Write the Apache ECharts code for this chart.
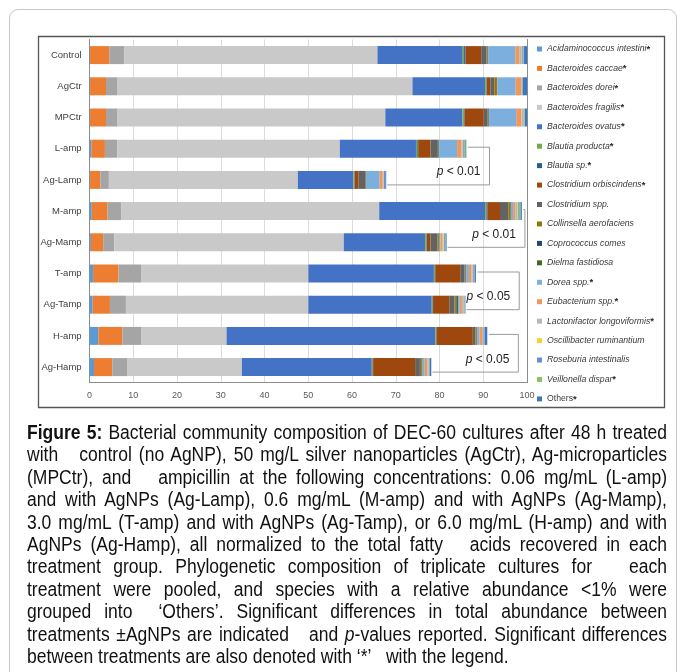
<!DOCTYPE html>
<html>
<head>
<meta charset="utf-8">
<title>Bacterial community composition of DEC-60 cultures</title>
<script src="https://cdn.jsdelivr.net/npm/echarts@6/dist/echarts.min.js"></script>
<style>
  html, body { margin: 0; padding: 0; background: #fff; }
  #page { position: relative; width: 683px; height: 672px; overflow: hidden; }
  #frame { position: absolute; left: 9px; top: 9px; width: 666px; height: 720px;
           border: 1px solid #c8c8c8; border-radius: 9px; }
  #chart { position: absolute; left: 0; top: 0; width: 683px; height: 672px; }
  #caption { position: absolute; left: 27px; top: 421px; width: 640px;
             font-family: 'Liberation Sans', Arial, sans-serif; color: #111; }
  #caption .ln { height: 22.4px; line-height: 22.4px; font-size: 20px; overflow: hidden;
                 transform-origin: 0 0; text-align: justify; text-align-last: justify; }
  #caption .ln.last { text-align-last: left; }
  #caption .ln span.measure { white-space: nowrap; }
</style>
</head>
<body>
<div id="page">
  <div id="frame"></div>
  <div id="chart"></div>
  <div id="caption">
    <div class="ln"><span><b>Figure 5:</b> Bacterial community composition of DEC-60 cultures after 48 h treated</span></div>
    <div class="ln"><span>with&nbsp;&nbsp; control (no AgNP), 50 mg/L silver nanoparticles (AgCtr), Ag-microparticles</span></div>
    <div class="ln"><span>(MPCtr), and&nbsp;&nbsp; ampicillin at the following concentrations: 0.06 mg/mL (L-amp)</span></div>
    <div class="ln"><span>and with AgNPs (Ag-Lamp), 0.6 mg/mL (M-amp) and with AgNPs (Ag-Mamp),</span></div>
    <div class="ln"><span>3.0 mg/mL (T-amp) and with AgNPs (Ag-Tamp), or 6.0 mg/mL (H-amp) and with</span></div>
    <div class="ln"><span>AgNPs (Ag-Hamp), all normalized to the total fatty&nbsp;&nbsp; acids recovered in each</span></div>
    <div class="ln"><span>treatment group. Phylogenetic composition of triplicate cultures for&nbsp;&nbsp; each</span></div>
    <div class="ln"><span>treatment were pooled, and species with a relative abundance &lt;1% were</span></div>
    <div class="ln"><span>grouped into&nbsp; ‘Others’. Significant differences in total abundance between</span></div>
    <div class="ln"><span>treatments ±AgNPs are indicated&nbsp;&nbsp; and <i>p</i>-values reported. Significant differences</span></div>
    <div class="ln last"><span>between treatments are also denoted with ‘*’&nbsp;&nbsp; with the legend.</span></div>
  </div>
</div>
<script>
// Treatment groups, top to bottom
const categories = ['Control', 'AgCtr', 'MPCtr', 'L-amp', 'Ag-Lamp', 'M-amp',
                    'Ag-Mamp', 'T-amp', 'Ag-Tamp', 'H-amp', 'Ag-Hamp'];

// Relative abundance (%) per species, one value per treatment group
const acidaminococcusIntestini   = [0.1, 0.1, 0.1, 0.4, 0.1, 0.5, 0.3, 0.8, 0.7, 2.0, 1.0];
const bacteroidesCaccae          = [4.4, 3.65, 3.65, 3.1, 2.35, 3.6, 2.8, 5.8, 3.95, 5.5, 4.2];
const bacteroidesDorei           = [3.4, 2.65, 2.65, 2.8, 1.95, 3.1, 2.55, 5.15, 3.65, 4.25, 3.35];
const bacteroidesFragilis        = [57.9, 67.4, 61.2, 50.9, 43.2, 59.0, 52.45, 38.25, 41.7, 19.55, 26.25];
const bacteroidesOvatus          = [19.5, 16.6, 17.6, 17.4, 12.7, 24.2, 18.6, 28.7, 28.2, 47.7, 29.7];
const blautiaProducta            = [0.3, 0.3, 0.3, 0.3, 0.2, 0.3, 0.3, 0.2, 0.2, 0.2, 0.2];
const blautiaSp                  = [0.3, 0.1, 0.2, 0.2, 0.1, 0.2, 0.1, 0.1, 0.1, 0.1, 0.1];
const clostridiumOrbiscindens    = [3.6, 0.8, 4.4, 2.8, 0.9, 2.9, 0.8, 5.7, 3.7, 8.3, 9.6];
const clostridiumSpp             = [1.2, 0.9, 0.9, 1.7, 1.5, 1.9, 1.6, 1.0, 1.2, 0.6, 1.1];
const collinsellaAerofaciens     = [0.2, 0.6, 0.1, 0.1, 0.1, 0.4, 0.3, 0.2, 0.3, 0.2, 0.3];
const coprococcusComes           = [0.1, 0.05, 0.1, 0.1, 0.1, 0.1, 0.1, 0.1, 0.2, 0.1, 0.1];
const dielmaFastidiosa           = [0.1, 0.05, 0.1, 0.1, 0.1, 0.1, 0.1, 0.1, 0.3, 0.1, 0.2];
const doreaSpp                   = [6.2, 4.2, 6.2, 4.1, 3.0, 0.5, 0.2, 0.6, 0.4, 0.5, 0.5];
const eubacteriumSpp             = [0.9, 1.2, 1.2, 1.0, 0.7, 0.5, 0.4, 0.6, 0.5, 0.6, 0.6];
const lactonifactorLongoviformis = [0.6, 0.2, 0.4, 0.3, 0.2, 0.5, 0.3, 0.3, 0.3, 0.3, 0.3];
const oscillibacterRuminantium   = [0.1, 0.05, 0.1, 0.1, 0.05, 0.1, 0.1, 0.1, 0.1, 0.05, 0.05];
const roseburiaIntestinalis      = [0.3, 0.1, 0.2, 0.2, 0.3, 0.2, 0.2, 0.2, 0.2, 0.2, 0.2];
const veillonellaDispar          = [0.1, 0.05, 0.1, 0.3, 0.05, 0.4, 0.2, 0.1, 0.1, 0.05, 0.05];
const others                     = [0.7, 1.0, 0.5, 0.2, 0.2, 0.3, 0.2, 0.3, 0.1, 0.6, 0.3];

// Axis ticks (percent)
const xTicks = { min: 0, max: 100, step: 10 };

// Species in stacking order, with significance flag shown as '*'
const species = [
  { name: 'Acidaminococcus intestini',   values: acidaminococcusIntestini,   star: true,  color: '#5B9BD5' },
  { name: 'Bacteroides caccae',          values: bacteroidesCaccae,          star: true,  color: '#ED7D31' },
  { name: 'Bacteroides dorei',           values: bacteroidesDorei,           star: true,  color: '#A5A5A5' },
  { name: 'Bacteroides fragilis',        values: bacteroidesFragilis,        star: true,  color: '#C9C9C9' },
  { name: 'Bacteroides ovatus',          values: bacteroidesOvatus,          star: true,  color: '#4472C4' },
  { name: 'Blautia producta',            values: blautiaProducta,            star: true,  color: '#70AD47' },
  { name: 'Blautia sp.',                 values: blautiaSp,                  star: true,  color: '#255E91' },
  { name: 'Clostridium orbiscindens',    values: clostridiumOrbiscindens,    star: true,  color: '#9E480E' },
  { name: 'Clostridium spp.',            values: clostridiumSpp,             star: false, color: '#636363' },
  { name: 'Collinsella aerofaciens',     values: collinsellaAerofaciens,     star: false, color: '#997300' },
  { name: 'Coprococcus comes',           values: coprococcusComes,           star: false, color: '#264478' },
  { name: 'Dielma fastidiosa',           values: dielmaFastidiosa,           star: false, color: '#43682B' },
  { name: 'Dorea spp.',                  values: doreaSpp,                   star: true,  color: '#7CAFDD' },
  { name: 'Eubacterium spp.',            values: eubacteriumSpp,             star: true,  color: '#F1975A' },
  { name: 'Lactonifactor longoviformis', values: lactonifactorLongoviformis, star: true,  color: '#B7B7B7' },
  { name: 'Oscillibacter ruminantium',   values: oscillibacterRuminantium,   star: false, color: '#FFCD33' },
  { name: 'Roseburia intestinalis',      values: roseburiaIntestinalis,      star: false, color: '#698ED0' },
  { name: 'Veillonella dispar',          values: veillonellaDispar,          star: true,  color: '#8CC168' },
  { name: 'Others',                      values: others,                     star: true,  color: '#3A78C0' }
];

// Paired comparisons (±AgNPs) with reported p-values; reach = bracket position on the % axis
const comparisons = [
  { upper: 'L-amp', lower: 'Ag-Lamp', p: '0.01', reach: 91.4 },
  { upper: 'M-amp', lower: 'Ag-Mamp', p: '0.01', reach: 99.5 },
  { upper: 'T-amp', lower: 'Ag-Tamp', p: '0.05', reach: 98.2 },
  { upper: 'H-amp', lower: 'Ag-Hamp', p: '0.05', reach: 98.0 }
];

// Caption lines: condense the type slightly, then justify each line to the column width
(function layoutCaption() {
  const column = 640, condense = 0.875;
  document.querySelectorAll('#caption .ln').forEach(line => {
    const span = line.querySelector('span');
    span.classList.add('measure');
    const natural = span.getBoundingClientRect().width;
    span.classList.remove('measure');
    const s = Math.min(condense, (column - 1) / natural);
    line.style.width = (column / s) + 'px';
    line.style.transform = 'scaleX(' + s + ')';
  });
})();

const FONT = "'Liberation Sans', Arial, sans-serif";
const chart = echarts.init(document.getElementById('chart'), null, { renderer: 'canvas' });

const legendRich = {
  n: { fontFamily: FONT, fontSize: 8.7, fontStyle: 'italic', color: '#3a3a3a', lineHeight: 10 },
  o: { fontFamily: FONT, fontSize: 8.7, color: '#3a3a3a', lineHeight: 10 },
  s: { fontFamily: FONT, fontSize: 9.5, fontWeight: 'bold', color: '#262626', lineHeight: 10 }
};

chart.setOption({
  animation: false,
  color: species.map(s => s.color),
  grid: { left: 89.6, right: 155.9, top: 39.5, bottom: 289.3, containLabel: false },
  xAxis: {
    type: 'value', min: xTicks.min, max: xTicks.max, interval: xTicks.step,
    axisLine: { show: true, lineStyle: { color: '#8c8c8c', width: 1 } },
    axisTick: { show: false },
    axisLabel: { color: '#595959', fontFamily: FONT, fontSize: 9, margin: 8 },
    splitLine: { show: true, lineStyle: { color: '#dcdcdc', width: 1 } }
  },
  yAxis: [{
    type: 'category', data: categories, inverse: true,
    axisLine: { show: true, lineStyle: { color: '#8c8c8c', width: 1 } },
    axisTick: { show: false },
    axisLabel: { color: '#404040', fontFamily: FONT, fontSize: 9.5, margin: 8 },
    splitLine: { show: false }
  }, {
    type: 'category', data: categories, inverse: true, position: 'right',
    axisLine: { show: true, onZero: false, lineStyle: { color: '#8c8c8c', width: 1 } },
    axisTick: { show: false }, axisLabel: { show: false }, splitLine: { show: false }
  }],
  legend: {
    orient: 'vertical', left: 537, top: 44, padding: 0,
    itemWidth: 5, itemHeight: 5, itemGap: 9.44, icon: 'rect',
    selectedMode: false,
    data: species.map(s => s.name),
    textStyle: { fontFamily: FONT, fontSize: 8.7, color: '#3a3a3a', lineHeight: 10, rich: legendRich },
    formatter: name => {
      const s = species.find(d => d.name === name);
      const body = name === 'Others' ? `{o|${name}}` : `{n|${name}}`;
      return s.star ? body + '{s|*}' : body;
    }
  },
  series: species.map(s => ({
    name: s.name, type: 'bar', stack: 'composition', yAxisIndex: 0,
    data: s.values, barWidth: 18,
    itemStyle: { color: s.color, borderWidth: 0 },
    emphasis: { disabled: true }
  }))
});

// Bar totals drive the bracket end points
const totals = categories.map((_, i) => species.reduce((acc, s) => acc + s.values[i], 0));

function px(value, catIndex) {
  return chart.convertToPixel({ xAxisIndex: 0, yAxisIndex: 0 }, [value, catIndex]);
}

const graphics = [{
  type: 'rect', silent: true, z: 0,
  shape: { x: 38.5, y: 36.5, width: 626, height: 371 },
  style: { fill: 'none', stroke: '#555', lineWidth: 1.3 }
}];

comparisons.forEach(c => {
  const iu = categories.indexOf(c.upper);
  const il = categories.indexOf(c.lower);
  const [xu, yuc] = px(totals[iu], iu);
  const [xl, ylc] = px(totals[il], il);
  const [xr] = px(c.reach, iu);
  const yu = yuc - 1.5;
  const yl = ylc + 5;
  graphics.push({
    type: 'polyline', silent: true, z: 10,
    shape: { points: [[xu + 1.5, yu], [xr, yu], [xr, yl], [xl + 1, yl]] },
    style: { fill: 'none', stroke: '#9a9a9a', lineWidth: 1 }
  });
  graphics.push({
    type: 'text', silent: true, z: 11,
    x: xr - 9, y: (yu + yl) / 2 + 6,
    style: {
      text: `{i|p} < ${c.p}`,
      align: 'right', verticalAlign: 'middle',
      fontFamily: FONT, fontSize: 12, fill: '#222',
      rich: {
        i: { fontFamily: FONT, fontSize: 12, fontStyle: 'italic', fill: '#222' }
      }
    }
  });
});

chart.setOption({ graphic: graphics });
</script>
</body>
</html>
